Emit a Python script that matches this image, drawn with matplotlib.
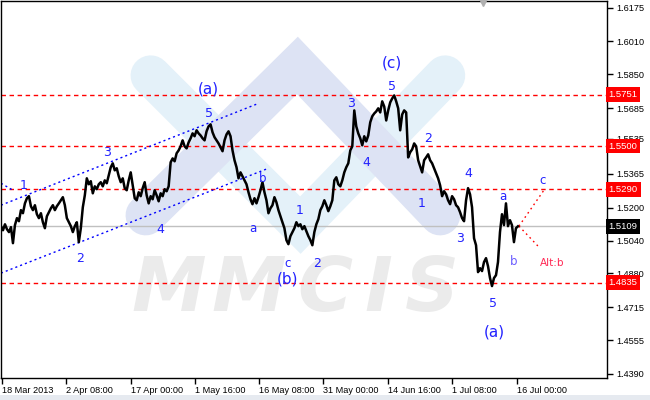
import numpy as np
import matplotlib
matplotlib.use("Agg")
import matplotlib.pyplot as plt
from matplotlib.transforms import blended_transform_factory

# ---------------- data ----------------
# hourly close prices sampled along the chart (bar index 0..259)
prices = [
    1.5110, 1.5090, 1.5119, 1.5095, 1.5081, 1.5105, 1.5027, 1.5115, 1.5149, 1.5134,
    1.5188, 1.5173, 1.5221, 1.5246, 1.5256, 1.5207, 1.5188, 1.5212, 1.5168, 1.5149,
    1.5173, 1.5129, 1.5100, 1.5158, 1.5178, 1.5197, 1.5212, 1.5188, 1.5207, 1.5221,
    1.5236, 1.5251, 1.5212, 1.5149, 1.5129, 1.5110, 1.5081, 1.5110, 1.5129, 1.5032,
    1.5100, 1.5202, 1.5260, 1.5343, 1.5314, 1.5329, 1.5270, 1.5304, 1.5290, 1.5314,
    1.5324, 1.5304, 1.5333, 1.5319, 1.5358, 1.5397, 1.5416, 1.5382, 1.5392, 1.5353,
    1.5324, 1.5343, 1.5295, 1.5285, 1.5333, 1.5372, 1.5309, 1.5246, 1.5236, 1.5275,
    1.5256, 1.5295, 1.5324, 1.5260, 1.5221, 1.5256, 1.5241, 1.5285, 1.5260, 1.5231,
    1.5270, 1.5256, 1.5290, 1.5280, 1.5304, 1.5421, 1.5440, 1.5426, 1.5465, 1.5479,
    1.5499, 1.5528, 1.5499, 1.5489, 1.5518, 1.5538, 1.5562, 1.5548, 1.5577, 1.5562,
    1.5552, 1.5538, 1.5528, 1.5572, 1.5596, 1.5606, 1.5567, 1.5543, 1.5528, 1.5513,
    1.5494, 1.5475, 1.5528, 1.5557, 1.5572, 1.5548, 1.5479, 1.5431, 1.5397, 1.5343,
    1.5372, 1.5353, 1.5333, 1.5314, 1.5275, 1.5241, 1.5217, 1.5246, 1.5221, 1.5251,
    1.5285, 1.5324, 1.5275, 1.5236, 1.5173, 1.5197, 1.5212, 1.5251, 1.5226, 1.5188,
    1.5158, 1.5129, 1.5100, 1.5042, 1.5022, 1.5061, 1.5081, 1.5100, 1.5129, 1.5110,
    1.5119, 1.5095, 1.5110, 1.5085, 1.5061, 1.5042, 1.5017, 1.5081, 1.5119, 1.5144,
    1.5188, 1.5207, 1.5236, 1.5212, 1.5183, 1.5207, 1.5236, 1.5333, 1.5348, 1.5314,
    1.5304, 1.5333, 1.5372, 1.5397, 1.5416, 1.5479, 1.5499, 1.5674, 1.5596, 1.5562,
    1.5538, 1.5504, 1.5548, 1.5523, 1.5552, 1.5616, 1.5645, 1.5659, 1.5669, 1.5684,
    1.5664, 1.5718, 1.5693, 1.5625, 1.5674, 1.5713, 1.5732, 1.5747, 1.5718, 1.5684,
    1.5577, 1.5654, 1.5674, 1.5664, 1.5445, 1.5470, 1.5484, 1.5513, 1.5499, 1.5431,
    1.5402, 1.5372, 1.5431, 1.5445, 1.5460, 1.5431, 1.5416, 1.5392, 1.5368, 1.5343,
    1.5309, 1.5256, 1.5280, 1.5265, 1.5236, 1.5217, 1.5256, 1.5241, 1.5212, 1.5202,
    1.5178, 1.5149, 1.5134, 1.5236, 1.5295, 1.5265, 1.5202, 1.5051, 1.5017, 1.4886,
    1.4905, 1.4891, 1.4935, 1.4954, 1.4915, 1.4857, 1.4818, 1.4857, 1.4871, 1.4935,
    1.5081, 1.5168, 1.5115, 1.5221, 1.5110, 1.5139, 1.5115, 1.5032, 1.5100, 1.5109,
]

ytick_values = [1.6175, 1.6010, 1.5850, 1.5685, 1.5535, 1.5365, 1.5200,
                1.5040, 1.4880, 1.4715, 1.4555, 1.4390]
xtick_labels = ["18 Mar 2013", "2 Apr 08:00", "17 Apr 00:00", "1 May 16:00",
                "16 May 08:00", "31 May 00:00", "14 Jun 16:00", "1 Jul 08:00",
                "16 Jul 00:00"]
xtick_bars = [0.5, 32.5, 65, 97, 129.5, 161.5, 194, 226, 258.5]

levels = [1.5751, 1.5500, 1.5290, 1.4835]
last_price = 1.5109

# wave labels: (text, bar, price, size, colour)
BL = "#2222ff"
wave_labels = [
    ("1", 11.5, 1.5309, 9, BL), ("2", 39.5, 1.4954, 9, BL),
    ("3", 53, 1.5470, 9, BL), ("4", 80, 1.5095, 9, BL),
    ("5", 104, 1.5659, 9, BL), ("(a)", 104, 1.5776, 11, BL),
    ("a", 126, 1.5100, 8.5, BL), ("b", 131, 1.5343, 8.5, BL),
    ("c", 143.5, 1.4930, 8.5, BL), ("(b)", 143.5, 1.4852, 11, BL),
    ("1", 149.5, 1.5188, 9, BL), ("2", 158.5, 1.4930, 9, BL),
    ("3", 175.5, 1.5708, 9, BL), ("4", 183, 1.5421, 9, BL),
    ("5", 196, 1.5791, 9, BL), ("(c)", 196, 1.5903, 11, BL),
    ("1", 210.5, 1.5222, 9, BL), ("2", 214, 1.5538, 9, BL),
    ("3", 230, 1.5051, 9, BL), ("4", 234, 1.5368, 9, BL),
    ("5", 246.5, 1.4735, 9, BL), ("(a)", 247, 1.4594, 11, BL),
    ("a", 251.5, 1.5256, 8.5, BL), ("b", 257, 1.4939, 8.5, "#6a5cff"),
    ("c", 271.5, 1.5333, 8.5, BL), ("Alt:b", 276, 1.4930, 7.5, "#ff2a55"),
]

# channel / projection lines: ((bar0, price0), (bar1, price1))
channel_lines = [((0, 1.5212), (129, 1.5708)),
                 ((0, 1.4881), (134, 1.5392)),
                 ((0, 1.5319), (6, 1.5285))]
projection_lines = [((259.5, 1.5110), (272, 1.5285)),
                    ((259.5, 1.5110), (270, 1.5003))]

# ---------------- figure ----------------
plt.rcParams['font.family'] = ['Liberation Sans', 'DejaVu Sans']
fig = plt.figure(figsize=(6.5, 4.0), dpi=100)
fig.patch.set_facecolor("white")
ax = fig.add_axes([0.0015, 0.055, 0.932, 0.9435])
ax.set_xlim(0, 303.5)
ax.set_ylim(1.4370, 1.6209)

# watermark (logo bands + MMCIS)
lw_band = 29
ax.plot([75, 150, 222.5], [1.5844, 1.5115, 1.5844], color="#e4f1f9",
        lw=lw_band, solid_capstyle="round", solid_joinstyle="miter", zorder=0.1)
ax.plot([72.5, 148.5, 220], [1.5163, 1.5893, 1.5163], color="#dde3f4",
        lw=lw_band, solid_capstyle="round", solid_joinstyle="miter", zorder=0.2)
for ch, xc in zip("MMCIS", [84, 124, 162, 189, 216]):
    ax.text(xc, 1.4795, ch, fontsize=54, fontweight="bold", fontstyle="italic",
            color="#ebebeb", ha="center", va="center", zorder=0.3,
            family="DejaVu Sans")

# levels
for lv in levels:
    ax.axhline(lv, color="#ff0000", lw=1.0, ls=(0, (3.2, 2.6)), zorder=2)
ax.axhline(last_price, color="#c0c0c0", lw=1.0, zorder=1.5)

# price
ax.plot(np.arange(len(prices)), prices, color="black", lw=1.8, zorder=3)

# channels
for (x0, y0), (x1, y1) in channel_lines:
    ax.plot([x0, x1], [y0, y1], color="#0000ff", lw=1.0, ls=(0, (1.5, 2.2)), zorder=2.5)
for (x0, y0), (x1, y1) in projection_lines:
    ax.plot([x0, x1], [y0, y1], color="#ff0000", lw=1.0, ls=(0, (1.2, 2.5)), zorder=2.5)

for t, x, y, s, c in wave_labels:
    ax.text(x, y, t, fontsize=s, color=c, ha="center", va="center", zorder=4,
            family="DejaVu Sans")

# axes styling
for sp in ax.spines.values():
    sp.set_color("black")
    sp.set_linewidth(1.0)
ax.yaxis.tick_right()
ax.set_yticks(ytick_values)
ax.set_yticklabels([f"{v:.4f}" for v in ytick_values])
ax.tick_params(axis="y", direction="out", length=4, width=1, pad=3,
               labelsize=6.6, colors="black")
ax.set_xticks(xtick_bars)
ax.set_xticklabels(xtick_labels)
ax.tick_params(axis="x", direction="out", length=4, width=1, pad=2,
               labelsize=6.6, colors="black")
for lab in ax.get_xticklabels():
    lab.set_horizontalalignment("left")

trans = blended_transform_factory(ax.transAxes, ax.transData)
for lv in levels:
    ax.text(1.003, lv, f"{lv:.4f}", transform=trans, fontsize=6.8, color="white",
            ha="left", va="center", zorder=6, clip_on=False,
            bbox=dict(boxstyle="square,pad=0.3", facecolor="#ff0000", edgecolor="none"))
ax.text(1.003, last_price, f"{last_price:.4f}", transform=trans, fontsize=6.8,
        color="white", ha="left", va="center", zorder=6, clip_on=False,
        bbox=dict(boxstyle="square,pad=0.3", facecolor="black", edgecolor="none"))

# small shift marker at top
ax.plot([241.5], [1.6203], marker="v", color="#b0b0b0", ms=6, zorder=5, clip_on=False)

# bottom strip
fig.patches.append(plt.Rectangle((0, 0), 1, 0.012, transform=fig.transFigure,
                                 facecolor="#e6eaf0", edgecolor="none"))

fig.savefig("out.png", dpi=100)
